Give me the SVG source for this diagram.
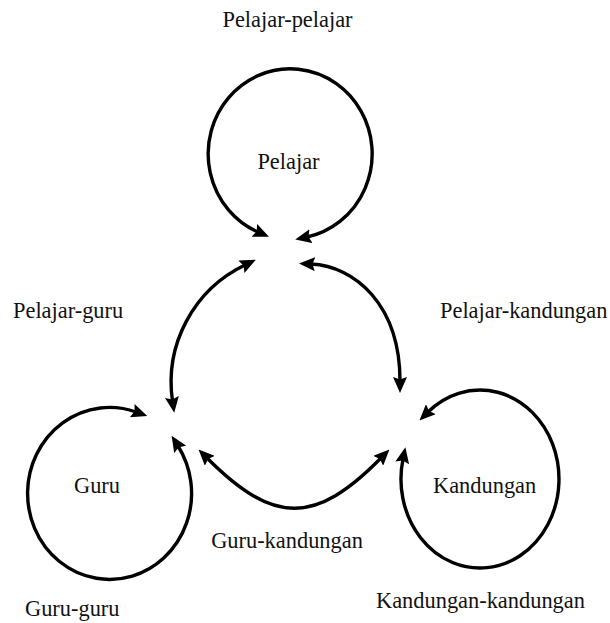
<svg xmlns="http://www.w3.org/2000/svg" width="610" height="623" viewBox="0 0 610 623">
<style>
.lbl{font-family:"Liberation Serif","Times New Roman",serif;font-size:22.4px;fill:#111}
.arc{fill:none;stroke:#000;stroke-width:3.4;marker-start:url(#ah);marker-end:url(#ah)}
</style>
<defs>
<marker id="ah" viewBox="0 0 16 14" refX="4" refY="7" markerWidth="16" markerHeight="14" markerUnits="userSpaceOnUse" orient="auto-start-reverse">
<path d="M0,0 L16,7 L0,14 L2.5,7 z" fill="#000"/>
</marker>
</defs>
<rect width="610" height="623" fill="#fff"/>
<g id="connectors">
<path id="loop-pelajar" class="arc" d="M258,232 A82,85 0 1 1 307,237"/>
<path id="loop-guru" class="arc" d="M136,412 A82,86 0 1 0 178,446"/>
<path id="loop-kandungan" class="arc" d="M428,412 A79,89 0 1 1 403,459"/>
<path id="pelajar-guru" class="arc" d="M245,265 A130,130 0 0 0 172.5,401"/>
<path id="pelajar-kandungan" class="arc" d="M311,264 C355,266 400,305 400,381"/>
<path id="guru-kandungan" class="arc" d="M207,458 C274,525 315,525 381,458"/>
</g>
<g id="node-pelajar"><text class="lbl" x="288.5" y="169" text-anchor="middle">Pelajar</text></g>
<g id="node-guru"><text class="lbl" x="74" y="493">Guru</text></g>
<g id="node-kandungan"><text class="lbl" x="433" y="493">Kandungan</text></g>
<g id="labels">
<text class="lbl" x="287.5" y="27" text-anchor="middle">Pelajar-pelajar</text>
<text class="lbl" x="13" y="318">Pelajar-guru</text>
<text class="lbl" x="440" y="318">Pelajar-kandungan</text>
<text class="lbl" x="287" y="548" text-anchor="middle">Guru-kandungan</text>
<text class="lbl" x="25" y="616">Guru-guru</text>
<text class="lbl" x="376" y="608">Kandungan-kandungan</text>
</g>
</svg>
